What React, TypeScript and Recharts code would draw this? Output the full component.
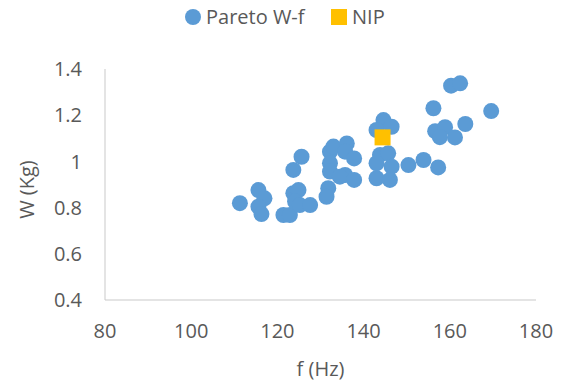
import { ScatterChart, Scatter, XAxis, YAxis, Customized } from "recharts";

// Pareto front: frequency f (Hz) against weight W (Kg)
const paretoF = [
  111.3, 115.6, 117.0, 115.6, 116.3, 121.4, 122.9, 123.7, 124.9, 124.1,
  125.2, 127.6, 123.7, 125.6, 132.2, 133.0, 136.1, 135.7, 137.8, 132.2,
  132.2, 135.7, 134.5, 137.8, 131.8, 131.4, 144.6, 143.0, 146.5, 143.8,
  145.7, 143.0, 146.5, 143.0, 146.1, 150.4, 153.9, 157.3, 156.2, 160.3,
  162.4, 169.6, 163.6, 156.6, 158.9, 157.7, 161.2,
];
const paretoW = [
  0.819, 0.876, 0.84, 0.804, 0.772, 0.768, 0.768, 0.862, 0.876, 0.826,
  0.811, 0.811, 0.963, 1.02, 1.042, 1.064, 1.078, 1.042, 1.013, 0.992,
  0.956, 0.941, 0.934, 0.92, 0.884, 0.847, 1.179, 1.136, 1.15, 1.028,
  1.035, 0.992, 0.977, 0.927, 0.92, 0.984, 1.006, 0.974, 1.23, 1.328,
  1.338, 1.218, 1.162, 1.131, 1.148, 1.105, 1.104,
];

// NIP design point
const nipF = [144.4];
const nipW = [1.104];

const xTicks = [80, 100, 120, 140, 160, 180];
const yTicks = [0.4, 0.6, 0.8, 1, 1.2, 1.4];

const pareto = paretoF.map((f, i) => ({ f, w: paretoW[i] }));
const nip = nipF.map((f, i) => ({ f, w: nipW[i] }));

const BLUE = "#5B9BD5";
const GOLD = "#FFC000";
const TEXT = "#595959";
const AXIS = "#C9C9C9";
const FONT = "'Open Sans', sans-serif";
const FS = 20;

const dot = (p: any) => <circle cx={p.cx} cy={p.cy} r={8} fill={BLUE} />;
const square = (p: any) => (
  <rect x={p.cx - 8} y={p.cy - 8} width={16} height={16} fill={GOLD} />
);

function LegendRow() {
  return (
    <g fontFamily={FONT} fontSize={FS} fill={TEXT}>
      <circle cx={193} cy={17} r={8} fill={BLUE} />
      <text x={206} y={24}>Pareto W-f</text>
      <rect x={331} y={9} width={16} height={16} fill={GOLD} />
      <text x={352} y={24}>NIP</text>
    </g>
  );
}

export default function App() {
  return (
    <div>
      <style>{"body{margin:0}"}</style>
      <ScatterChart
        width={565}
        height={389}
        margin={{ top: 69, right: 29, bottom: 0, left: 0 }}
        style={{ fontFamily: FONT }}
      >
        <XAxis
          type="number"
          dataKey="f"
          domain={[80, 180]}
          ticks={xTicks}
          height={89}
          tickLine={false}
          tickSize={0}
          tickMargin={24}
          stroke={AXIS}
          tick={{ fill: TEXT, fontSize: FS }}
          label={{
            value: "f (Hz)",
            position: "insideBottom",
            offset: 13,
            fill: TEXT,
            fontSize: FS,
          }}
        />
        <YAxis
          type="number"
          dataKey="w"
          domain={[0.4, 1.4]}
          ticks={yTicks}
          width={105}
          tickLine={false}
          tickSize={0}
          tickMargin={23}
          stroke={AXIS}
          tick={{ fill: TEXT, fontSize: FS }}
          label={(props: any) => {
            const vb = props.viewBox || {};
            const cy = (vb.y ?? 69) + (vb.height ?? 231) / 2 + 5;
            return (
              <text
                x={34}
                y={cy}
                transform={`rotate(-90, 34, ${cy})`}
                textAnchor="middle"
                fill={TEXT}
                fontSize={FS}
                fontFamily={FONT}
              >
                W (Kg)
              </text>
            );
          }}
        />
        <Scatter
          name="Pareto W-f"
          data={pareto}
          shape={dot}
          isAnimationActive={false}
        />
        <Scatter name="NIP" data={nip} shape={square} isAnimationActive={false} />
        <Customized component={LegendRow} />
      </ScatterChart>
    </div>
  );
}
